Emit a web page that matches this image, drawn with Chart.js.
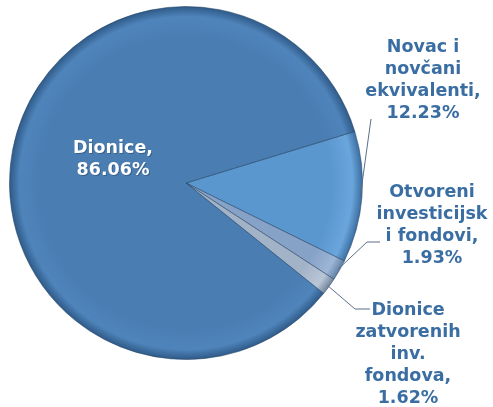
<!DOCTYPE html>
<html>
<head>
<meta charset="utf-8">
<script src="https://cdn.jsdelivr.net/npm/chart.js@4.4.1/dist/chart.umd.min.js"></script>
<style>
    html, body { margin: 0; padding: 0; background: #ffffff; }
    #wrap { width: 493px; height: 407px; position: relative; }
</style>
</head>
<body>
<div id="wrap"><canvas id="pieChart"></canvas></div>
<script>
const categories = ['Novac i novčani ekvivalenti', 'Otvoreni investicijski fondovi', 'Dionice zatvorenih inv. fondova', 'Dionice'];
const shares = [12.23, 1.93, 1.62, 86.06];
const labelLines = [
    ['Novac i', 'novčani', 'ekvivalenti,', '12.23%'],
    ['Otvoreni', 'investicijsk', 'i fondovi,', '1.93%'],
    ['Dionice', 'zatvorenih', 'inv.', 'fondova,', '1.62%'],
    ['Dionice,', '86.06%']
];
const sliceColors = [
    ['#6aa6dc', '#5b97cf', '#3a6c9f'],
    ['#9db6d6', '#86a2c6', '#5e7ea6'],
    ['#b9c6d6', '#a3b3c7', '#6f829a'],
    ['#4f84bb', '#4a7db2', '#2d5885']
];

// where the text blocks sit (centre x, first line y) and where leader lines bend
const labelSpots = [
    { x: 423, y: 47, leader: [[371, 119]] },
    { x: 432, y: 192, leader: [[380, 242], [367, 242]] },
    { x: 408, y: 310, leader: [[370, 309], [355, 309]] },
    { x: 113, y: 148, inside: true }
];

const ctx = document.getElementById('pieChart').getContext('2d');

function sliceFill(context) {
    const chart = context.chart;
    const area = chart.chartArea;
    if (!area) return sliceColors[context.dataIndex][1];
    const cx = (area.left + area.right) / 2;
    const cy = (area.top + area.bottom) / 2;
    const r = Math.min(area.right - area.left, area.bottom - area.top) / 2;
    const c = sliceColors[context.dataIndex];
    const g = chart.ctx.createRadialGradient(cx, cy, 0, cx, cy, r);
    g.addColorStop(0, c[1]);
    g.addColorStop(0.82, c[1]);
    g.addColorStop(0.94, c[0]);
    g.addColorStop(1, c[2]);
    return g;
}

const labelPlugin = {
    id: 'sliceLabels',
    afterDatasetsDraw(chart) {
        const c = chart.ctx;
        const arcs = chart.getDatasetMeta(0).data;
        const lineH = 22;
        c.save();
        c.font = 'bold 17.5px "DejaVu Sans", Verdana, sans-serif';
        c.textAlign = 'center';
        c.textBaseline = 'middle';
        arcs.forEach((arc, i) => {
            const spot = labelSpots[i];
            if (spot.leader) {
                const mid = (arc.startAngle + arc.endAngle) / 2;
                const rr = arc.outerRadius * 0.99;
                const sx = arc.x + Math.cos(mid) * rr;
                const sy = arc.y + Math.sin(mid) * rr;
                c.strokeStyle = '#5a6f86';
                c.lineWidth = 1;
                c.beginPath();
                c.moveTo(spot.leader[0][0], spot.leader[0][1]);
                spot.leader.slice(1).forEach(p => c.lineTo(p[0], p[1]));
                c.lineTo(sx, sy);
                c.stroke();
            }
            labelLines[i].forEach((t, k) => {
                if (spot.inside) {
                    c.fillStyle = 'rgba(20,40,70,0.35)';
                    c.fillText(t, spot.x + 1, spot.y + k * lineH + 1);
                    c.fillStyle = '#ffffff';
                } else {
                    c.fillStyle = '#3a6ea3';
                }
                c.fillText(t, spot.x, spot.y + k * lineH);
            });
        });
        c.restore();
    }
};

new Chart(ctx, {
    type: 'pie',
    data: {
        labels: categories,
        datasets: [{
            data: shares,
            backgroundColor: sliceFill,
            borderColor: 'rgba(35,65,100,0.55)',
            borderWidth: 1
        }]
    },
    options: {
        responsive: true,
        maintainAspectRatio: false,
        animation: false,
        rotation: 73,
        layout: { padding: { top: 6, bottom: 47, left: 9, right: 130 } },
        plugins: {
            legend: { display: false },
            tooltip: { enabled: false }
        }
    },
    plugins: [labelPlugin]
});
</script>
</body>
</html>
